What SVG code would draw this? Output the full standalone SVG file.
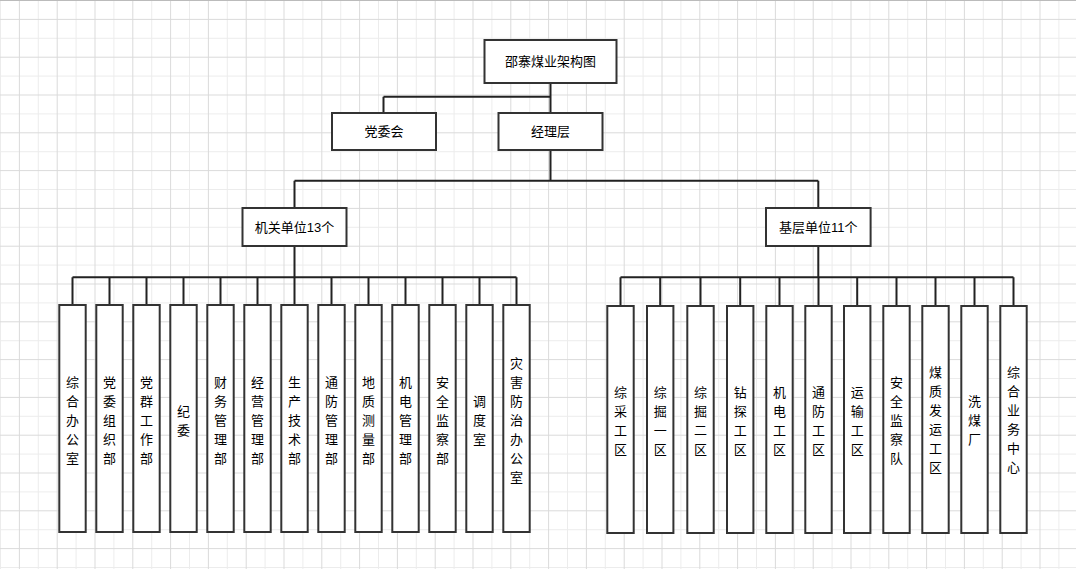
<svg xmlns="http://www.w3.org/2000/svg" width="1076" height="569" viewBox="0 0 1076 569">
<style>
.box{fill:#fff;stroke:#333;stroke-width:2}
.t{font-family:"Liberation Sans","Noto Sans CJK SC",sans-serif;font-size:13px;fill:#000;text-anchor:middle;dominant-baseline:central}
.c{fill:none;stroke:#222;stroke-width:2}
</style>
<defs>
<pattern id="grid" patternUnits="userSpaceOnUse" width="37.8" height="37.8">
<path d="M0.5 0V37.8M0 0.5H37.8" stroke="#ececec" stroke-width="1" fill="none"/>
<path d="M19.4 0V37.8M0 19.4H37.8" stroke="#dadada" stroke-width="1" fill="none"/>
</pattern>
</defs>
<rect width="1076" height="569" fill="#fff"/>
<rect width="1076" height="569" fill="url(#grid)"/>
<line x1="0" y1="0.5" x2="1076" y2="0.5" stroke="#bbb"/>
<g id="connectors" class="c">
<path d="M550.5 83V113M383.5 96.7H550.5M383.5 96.7V113"/>
<path d="M550.5 150V180.7M294.5 180.7H818.3M294.5 180.7V208M818.3 180.7V208"/>
<path d="M294.5 246V277.3M72.5 277.3H516.5"/>
<path d="M72.5 277.3V305M109.5 277.3V305M146.5 277.3V305M183.5 277.3V305M220.5 277.3V305M257.5 277.3V305M294.5 277.3V305M331.5 277.3V305M368.5 277.3V305M405.5 277.3V305M442.5 277.3V305M479.5 277.3V305M516.5 277.3V305"/>
<path d="M818.3 246V277.3M620.5 277.3H1013.5"/>
<path d="M620.5 277.3V306M660.2 277.3V306M700.5 277.3V306M740.2 277.3V306M779.5 277.3V306M818.5 277.3V306M857.2 277.3V306M896.5 277.3V306M935.5 277.3V306M974.5 277.3V306M1013.5 277.3V306"/>
</g>
<g id="n-root"><rect class="box" x="484.5" y="40" width="132" height="43"/><text class="t" x="550.5" y="61.5">邵寨煤业架构图</text></g>
<g id="n-dwh"><rect class="box" x="332" y="113" width="104" height="37"/><text class="t" x="384" y="131.5">党委会</text></g>
<g id="n-jlc"><rect class="box" x="498.5" y="113" width="104" height="37"/><text class="t" x="550.5" y="131.5">经理层</text></g>
<g id="n-jg"><rect class="box" x="242.5" y="208" width="104" height="38"/><text class="t" x="294.5" y="227">机关单位13个</text></g>
<g id="n-jc"><rect class="box" x="766" y="208" width="104.6" height="38"/><text class="t" x="818.3" y="227">基层单位11个</text></g>

<g id="l1"><rect class="box" x="59.3" y="305" width="26.4" height="227"/><text class="t" x="72.5" y="382"><tspan x="72.5">综</tspan><tspan x="72.5" dy="19">合</tspan><tspan x="72.5" dy="19">办</tspan><tspan x="72.5" dy="19">公</tspan><tspan x="72.5" dy="19">室</tspan></text></g>
<g id="l2"><rect class="box" x="96.3" y="305" width="26.4" height="227"/><text class="t" x="109.5" y="382"><tspan x="109.5">党</tspan><tspan x="109.5" dy="19">委</tspan><tspan x="109.5" dy="19">组</tspan><tspan x="109.5" dy="19">织</tspan><tspan x="109.5" dy="19">部</tspan></text></g>
<g id="l3"><rect class="box" x="133.3" y="305" width="26.4" height="227"/><text class="t" x="146.5" y="382"><tspan x="146.5">党</tspan><tspan x="146.5" dy="19">群</tspan><tspan x="146.5" dy="19">工</tspan><tspan x="146.5" dy="19">作</tspan><tspan x="146.5" dy="19">部</tspan></text></g>
<g id="l4"><rect class="box" x="170.3" y="305" width="26.4" height="227"/><text class="t" x="183.5" y="410.5"><tspan x="183.5">纪</tspan><tspan x="183.5" dy="19">委</tspan></text></g>
<g id="l5"><rect class="box" x="207.3" y="305" width="26.4" height="227"/><text class="t" x="220.5" y="382"><tspan x="220.5">财</tspan><tspan x="220.5" dy="19">务</tspan><tspan x="220.5" dy="19">管</tspan><tspan x="220.5" dy="19">理</tspan><tspan x="220.5" dy="19">部</tspan></text></g>
<g id="l6"><rect class="box" x="244.3" y="305" width="26.4" height="227"/><text class="t" x="257.5" y="382"><tspan x="257.5">经</tspan><tspan x="257.5" dy="19">营</tspan><tspan x="257.5" dy="19">管</tspan><tspan x="257.5" dy="19">理</tspan><tspan x="257.5" dy="19">部</tspan></text></g>
<g id="l7"><rect class="box" x="281.3" y="305" width="26.4" height="227"/><text class="t" x="294.5" y="382"><tspan x="294.5">生</tspan><tspan x="294.5" dy="19">产</tspan><tspan x="294.5" dy="19">技</tspan><tspan x="294.5" dy="19">术</tspan><tspan x="294.5" dy="19">部</tspan></text></g>
<g id="l8"><rect class="box" x="318.3" y="305" width="26.4" height="227"/><text class="t" x="331.5" y="382"><tspan x="331.5">通</tspan><tspan x="331.5" dy="19">防</tspan><tspan x="331.5" dy="19">管</tspan><tspan x="331.5" dy="19">理</tspan><tspan x="331.5" dy="19">部</tspan></text></g>
<g id="l9"><rect class="box" x="355.3" y="305" width="26.4" height="227"/><text class="t" x="368.5" y="382"><tspan x="368.5">地</tspan><tspan x="368.5" dy="19">质</tspan><tspan x="368.5" dy="19">测</tspan><tspan x="368.5" dy="19">量</tspan><tspan x="368.5" dy="19">部</tspan></text></g>
<g id="l10"><rect class="box" x="392.3" y="305" width="26.4" height="227"/><text class="t" x="405.5" y="382"><tspan x="405.5">机</tspan><tspan x="405.5" dy="19">电</tspan><tspan x="405.5" dy="19">管</tspan><tspan x="405.5" dy="19">理</tspan><tspan x="405.5" dy="19">部</tspan></text></g>
<g id="l11"><rect class="box" x="429.3" y="305" width="26.4" height="227"/><text class="t" x="442.5" y="382"><tspan x="442.5">安</tspan><tspan x="442.5" dy="19">全</tspan><tspan x="442.5" dy="19">监</tspan><tspan x="442.5" dy="19">察</tspan><tspan x="442.5" dy="19">部</tspan></text></g>
<g id="l12"><rect class="box" x="466.3" y="305" width="26.4" height="227"/><text class="t" x="479.5" y="401"><tspan x="479.5">调</tspan><tspan x="479.5" dy="19">度</tspan><tspan x="479.5" dy="19">室</tspan></text></g>
<g id="l13"><rect class="box" x="503.3" y="305" width="26.4" height="227"/><text class="t" x="516.5" y="363"><tspan x="516.5">灾</tspan><tspan x="516.5" dy="19">害</tspan><tspan x="516.5" dy="19">防</tspan><tspan x="516.5" dy="19">治</tspan><tspan x="516.5" dy="19">办</tspan><tspan x="516.5" dy="19">公</tspan><tspan x="516.5" dy="19">室</tspan></text></g>

<g id="r1"><rect class="box" x="607.3" y="306" width="26.4" height="227"/><text class="t" x="620.5" y="392"><tspan x="620.5">综</tspan><tspan x="620.5" dy="19">采</tspan><tspan x="620.5" dy="19">工</tspan><tspan x="620.5" dy="19">区</tspan></text></g>
<g id="r2"><rect class="box" x="647" y="306" width="26.4" height="227"/><text class="t" x="660.2" y="392"><tspan x="660.2">综</tspan><tspan x="660.2" dy="19">掘</tspan><tspan x="660.2" dy="19">一</tspan><tspan x="660.2" dy="19">区</tspan></text></g>
<g id="r3"><rect class="box" x="687.3" y="306" width="26.4" height="227"/><text class="t" x="700.5" y="392"><tspan x="700.5">综</tspan><tspan x="700.5" dy="19">掘</tspan><tspan x="700.5" dy="19">二</tspan><tspan x="700.5" dy="19">区</tspan></text></g>
<g id="r4"><rect class="box" x="727" y="306" width="26.4" height="227"/><text class="t" x="740.2" y="392"><tspan x="740.2">钻</tspan><tspan x="740.2" dy="19">探</tspan><tspan x="740.2" dy="19">工</tspan><tspan x="740.2" dy="19">区</tspan></text></g>
<g id="r5"><rect class="box" x="766.3" y="306" width="26.4" height="227"/><text class="t" x="779.5" y="392"><tspan x="779.5">机</tspan><tspan x="779.5" dy="19">电</tspan><tspan x="779.5" dy="19">工</tspan><tspan x="779.5" dy="19">区</tspan></text></g>
<g id="r6"><rect class="box" x="805.3" y="306" width="26.4" height="227"/><text class="t" x="818.5" y="392"><tspan x="818.5">通</tspan><tspan x="818.5" dy="19">防</tspan><tspan x="818.5" dy="19">工</tspan><tspan x="818.5" dy="19">区</tspan></text></g>
<g id="r7"><rect class="box" x="844" y="306" width="26.4" height="227"/><text class="t" x="857.2" y="392"><tspan x="857.2">运</tspan><tspan x="857.2" dy="19">输</tspan><tspan x="857.2" dy="19">工</tspan><tspan x="857.2" dy="19">区</tspan></text></g>
<g id="r8"><rect class="box" x="883.3" y="306" width="26.4" height="227"/><text class="t" x="896.5" y="382"><tspan x="896.5">安</tspan><tspan x="896.5" dy="19">全</tspan><tspan x="896.5" dy="19">监</tspan><tspan x="896.5" dy="19">察</tspan><tspan x="896.5" dy="19">队</tspan></text></g>
<g id="r9"><rect class="box" x="922.3" y="306" width="26.4" height="227"/><text class="t" x="935.5" y="372"><tspan x="935.5">煤</tspan><tspan x="935.5" dy="19">质</tspan><tspan x="935.5" dy="19">发</tspan><tspan x="935.5" dy="19">运</tspan><tspan x="935.5" dy="19">工</tspan><tspan x="935.5" dy="19">区</tspan></text></g>
<g id="r10"><rect class="box" x="961.3" y="306" width="26.4" height="227"/><text class="t" x="974.5" y="401"><tspan x="974.5">洗</tspan><tspan x="974.5" dy="19">煤</tspan><tspan x="974.5" dy="19">厂</tspan></text></g>
<g id="r11"><rect class="box" x="1000.3" y="306" width="26.4" height="227"/><text class="t" x="1013.5" y="372"><tspan x="1013.5">综</tspan><tspan x="1013.5" dy="19">合</tspan><tspan x="1013.5" dy="19">业</tspan><tspan x="1013.5" dy="19">务</tspan><tspan x="1013.5" dy="19">中</tspan><tspan x="1013.5" dy="19">心</tspan></text></g>
</svg>
